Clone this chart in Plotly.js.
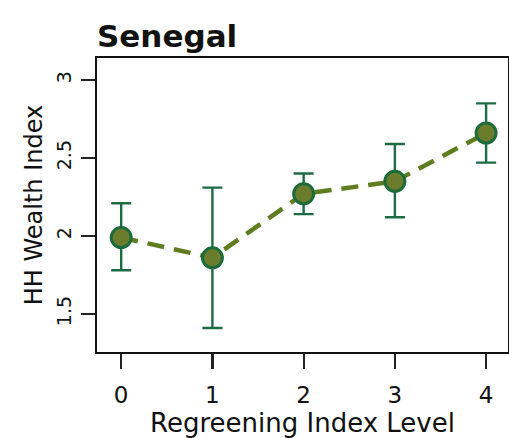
<!DOCTYPE html>
<html>
<head>
<meta charset="utf-8">
<script src="https://cdn.plot.ly/plotly-3.0.1.min.js"></script>
<style>html,body{margin:0;padding:0;background:#fff;}#chart{width:509px;height:438px;}</style>
</head>
<body>
<div id="chart"></div>
<script>
const levels = [0, 1, 2, 3, 4];
const wealthMean = [1.99, 1.86, 2.27, 2.35, 2.66];
const ciUpper = [2.21, 2.31, 2.40, 2.59, 2.85];
const ciLower = [1.78, 1.41, 2.14, 2.12, 2.47];
const xTickLabels = ['0', '1', '2', '3', '4'];
const yTickVals = [1.5, 2, 2.5, 3];
const yTickLabels = ['1.5', '2', '2.5', '3'];

const errPlus = ciUpper.map((u, i) => u - wealthMean[i]);
const errMinus = wealthMean.map((m, i) => m - ciLower[i]);

const FONT = 'DejaVu Sans, Liberation Sans, Arial, sans-serif';

const trace = {
  x: levels,
  y: wealthMean,
  type: 'scatter',
  mode: 'lines+markers',
  line: {color: '#5f7d1f', width: 4.5, dash: '17px,10px'},
  marker: {size: 20, color: '#6b7d2c', line: {color: '#1d6a3a', width: 3}},
  error_y: {
    type: 'data', symmetric: false,
    array: errPlus, arrayminus: errMinus,
    color: '#1d6b45', thickness: 2.4, width: 10
  },
  hoverinfo: 'x+y'
};

const layout = {
  width: 509, height: 438,
  margin: {l: 97, r: 1, t: 58, b: 86},
  paper_bgcolor: '#fff', plot_bgcolor: '#fff',
  showlegend: false,
  font: {family: FONT, color: '#111'},
  title: {
    text: '<b>Senegal</b>',
    font: {family: FONT, size: 31, color: '#111'},
    x: 0, xref: 'paper', xanchor: 'left',
    yref: 'container', y: 0.918, yanchor: 'middle'
  },
  xaxis: {
    range: [-0.265, 4.24],
    tickvals: levels, ticktext: xTickLabels,
    ticks: 'outside', ticklen: 15, tickwidth: 2.2, tickcolor: '#222',
    ticklabelstandoff: 6,
    tickfont: {family: FONT, size: 23, color: '#111'},
    showgrid: false, zeroline: false,
    showline: true, linecolor: '#111', linewidth: 2.2, mirror: true,
    title: {text: 'Regreening Index Level', font: {family: FONT, size: 26, color: '#111'}, standoff: 0}
  },
  yaxis: {
    range: [1.256, 3.141],
    tickvals: yTickVals, ticktext: yTickLabels,
    tickangle: -90,
    ticks: 'outside', ticklen: 14, tickwidth: 2.2, tickcolor: '#222',
    ticklabelstandoff: 2,
    tickfont: {family: FONT, size: 19, color: '#111'},
    showgrid: false, zeroline: false,
    showline: true, linecolor: '#111', linewidth: 2.2, mirror: true,
    title: {text: 'HH Wealth Index', font: {family: FONT, size: 24, color: '#111'}, standoff: 4}
  }
};

Plotly.newPlot('chart', [trace], layout, {displayModeBar: false, staticPlot: true});
</script>
</body>
</html>
